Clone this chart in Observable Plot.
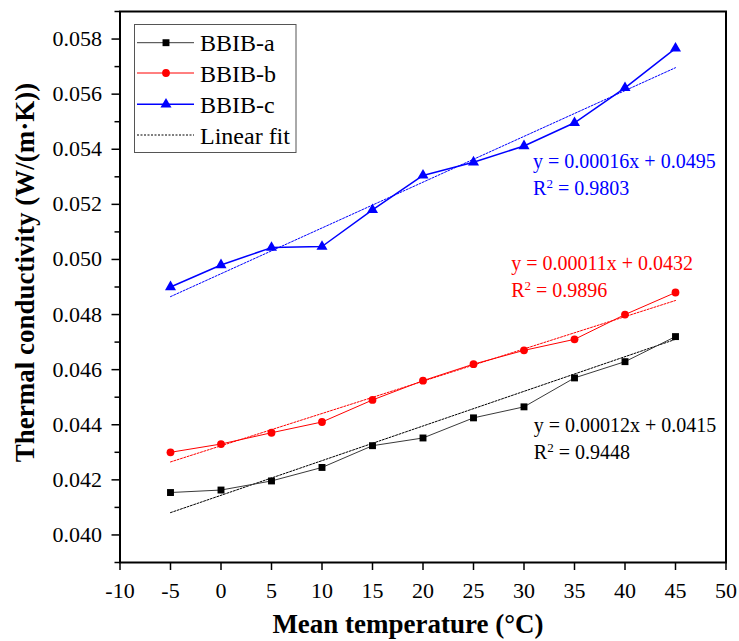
<!DOCTYPE html>
<html><head><meta charset="utf-8">
<script src="https://cdn.jsdelivr.net/npm/d3@7"></script>
<script src="https://cdn.jsdelivr.net/npm/@observablehq/plot@0.6"></script>
<style>
body{margin:0;background:#fff}
svg{font-family:"Liberation Serif","Times New Roman",serif}
</style>
</head><body><div id="chart"></div>
<script>
// ---- data ----
const temps = [-5, 0, 5, 10, 15, 20, 25, 30, 35, 40, 45];
const bbibA = [0.04154, 0.04163, 0.04196, 0.04245, 0.04324, 0.04352, 0.04425, 0.04465, 0.04570, 0.04629, 0.04720];
const bbibB = [0.04300, 0.04330, 0.04371, 0.04410, 0.04490, 0.04560, 0.04620, 0.04670, 0.04710, 0.04800, 0.04880];
const bbibC = [0.04900, 0.04980, 0.05043, 0.05047, 0.05180, 0.05305, 0.05353, 0.05412, 0.05496, 0.05623, 0.05766];
const fitX = [-5, 45];
const fitA = [0.04081, 0.04710];
const fitB = [0.04265, 0.04851];
const fitC = [0.04865, 0.05696];
const seriesNames = ["BBIB-a", "BBIB-b", "BBIB-c"];
const fitName = "Linear fit";
const xTicks = [-10, -5, 0, 5, 10, 15, 20, 25, 30, 35, 40, 45, 50];
const yTicks = [0.040, 0.042, 0.044, 0.046, 0.048, 0.050, 0.052, 0.054, 0.056, 0.058];
const yMinor = [0.039, 0.041, 0.043, 0.045, 0.047, 0.049, 0.051, 0.053, 0.055, 0.057, 0.059];
const eqText = ["y = 0.00012x + 0.0415", "y = 0.00011x + 0.0432", "y = 0.00016x + 0.0495"];
const r2Values = ["0.9448", "0.9896", "0.9803"];
const eqX = [30.97, 28.73, 30.9];
const eqY = [0.043745, 0.0496, 0.053309];
const r2Y = [0.042753, 0.048629, 0.052327];
const xLabel = "Mean temperature (°C)";
const yLabel = "Thermal conductivity (W/(m·K))";

// ---- styles ----
const markColors = ["#000000", "#ff0000", "#0000ff"];
const lineColors = ["#3a3a3a", "#ff0000", "#0000ff"];
const lineWidths = [1, 1, 1.5];
const symbols = ["square", "circle", "triangle"];
const symbolR = [3.9, 3.9, 4.1];
const dash = "2,1.5";
const seriesVals = [bbibA, bbibB, bbibC];
const fitVals = [fitA, fitB, fitC];

const marks = [];
seriesVals.forEach((vals, i) => {
  const pts = temps.map((t, j) => ({t, v: vals[j]}));
  const fit = fitX.map((t, j) => ({t, v: fitVals[i][j]}));
  marks.push(Plot.line(fit, {x: "t", y: "v", stroke: markColors[i], strokeWidth: 1, strokeDasharray: dash}));
  marks.push(Plot.line(pts, {x: "t", y: "v", stroke: lineColors[i], strokeWidth: lineWidths[i]}));
  marks.push(Plot.dot(pts, {x: "t", y: "v", symbol: symbols[i], r: symbolR[i], fill: markColors[i], stroke: "none"}));
});
const ann = [];
seriesVals.forEach((_, i) => {
  ann.push({x: eqX[i], y: eqY[i], text: eqText[i], c: markColors[i]});
  ann.push({x: eqX[i], y: r2Y[i], text: "R2 = " + r2Values[i], c: markColors[i]});
});
marks.push(Plot.text(ann, {x: "x", y: "y", text: "text", fill: "c", textAnchor: "start", lineAnchor: "bottom", fontSize: 20}));

marks.push(Plot.axisY({ticks: yMinor, tickFormat: () => "", tickSize: 5, strokeWidth: 1.5, label: null}));
marks.push(Plot.axisY({ticks: yTicks, tickFormat: d3.format(".3f"), tickSize: 8, tickPadding: 10, strokeWidth: 1.5, fontSize: 22, label: null}));
marks.push(Plot.axisX({ticks: xTicks, tickFormat: d => String(d), tickSize: 8, tickPadding: 12, strokeWidth: 1.5, fontSize: 22, label: null}));
marks.push(Plot.frame({stroke: "black", strokeWidth: 2}));

const svg = Plot.plot({
  width: 739, height: 641,
  marginLeft: 119.5, marginRight: 13.5, marginTop: 11, marginBottom: 79,
  x: {domain: [-10, 50]},
  y: {domain: [0.039, 0.059]},
  style: {fontFamily: "'Liberation Serif','Times New Roman',serif", fontSize: "22px", color: "black", background: "white"},
  marks
});
document.getElementById("chart").appendChild(svg);

const s = d3.select(svg);
// superscript 2 in R² annotations
s.selectAll("text").each(function() {
  const t = this.textContent;
  if (t.startsWith("R2 = ") && this.children.length === 0) {
    const el = d3.select(this);
    el.text(null);
    el.append("tspan").text("R");
    el.append("tspan").attr("font-size", 13).attr("dy", "-7px").text("2");
    el.append("tspan").attr("dy", "7px").text("\u00a0" + t.slice(3));
  }
});

// ---- axis titles ----
s.append("text").attr("x", 408).attr("y", 633).attr("text-anchor", "middle")
  .attr("font-weight", "bold").attr("font-size", 27).attr("fill", "black").text(xLabel);
s.append("text").attr("transform", "translate(34,272.5) rotate(-90)").attr("text-anchor", "middle")
  .attr("font-weight", "bold").attr("font-size", 27).attr("fill", "black").text(yLabel);

// ---- legend ----
const lg = s.append("g").attr("text-anchor", "start");
lg.append("rect").attr("x", 134.5).attr("y", 24.5).attr("width", 161.5).attr("height", 128)
  .attr("fill", "white").attr("stroke", "#555").attr("stroke-width", 1);
const rowY = [42.7, 73, 104.3, 135];
const d3sym = {square: d3.symbolSquare, circle: d3.symbolCircle, triangle: d3.symbolTriangle};
seriesNames.forEach((name, i) => {
  lg.append("line").attr("x1", 137).attr("x2", 194).attr("y1", rowY[i]).attr("y2", rowY[i])
    .attr("stroke", lineColors[i]).attr("stroke-width", lineWidths[i]);
  lg.append("path").attr("d", d3.symbol(d3sym[symbols[i]], Math.PI * symbolR[i] * symbolR[i])())
    .attr("transform", `translate(166,${rowY[i]})`).attr("fill", markColors[i]);
  lg.append("text").attr("x", 200).attr("y", rowY[i] + 8.5).attr("text-anchor", "start")
    .attr("font-size", 24).attr("fill", "black").text(name);
});
lg.append("line").attr("x1", 137).attr("x2", 194).attr("y1", rowY[3]).attr("y2", rowY[3])
  .attr("stroke", "black").attr("stroke-width", 1).attr("stroke-dasharray", dash);
lg.append("text").attr("x", 200).attr("y", rowY[3] + 8.5).attr("text-anchor", "start")
  .attr("font-size", 24).attr("fill", "black").text(fitName);
</script>
</body></html>
